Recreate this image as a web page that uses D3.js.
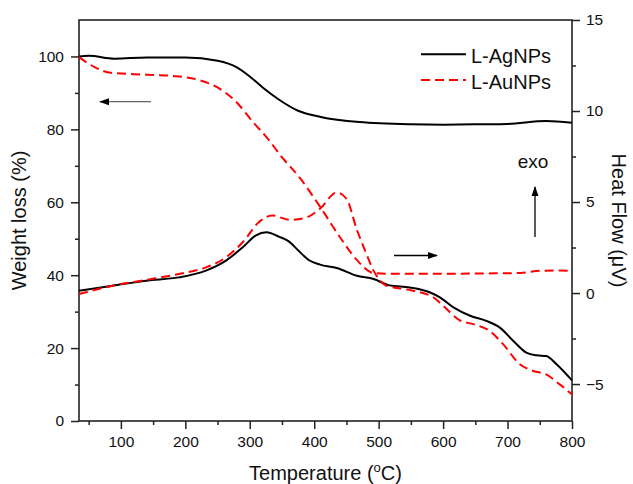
<!DOCTYPE html>
<html>
<head>
<meta charset="utf-8">
<script src="https://cdn.jsdelivr.net/npm/d3@7"></script>
<style>
  body { margin: 0; background: #fff; }
  svg text { font-family: Arial, "Liberation Sans", sans-serif; fill: #111; }
</style>
</head>
<body>
<div id="chart"></div>
<script>
// Temperature axis ticks
var tempTicks = [100, 200, 300, 400, 500, 600, 700, 800];
var weightTicks = [0, 20, 40, 60, 80, 100];
var heatTicks = [-5, 0, 5, 10, 15];
var seriesNames = ['L-AgNPs', 'L-AuNPs'];

// Weight loss (%) - left axis
var agWeightT = [35, 50, 90, 140, 200, 250, 280, 300, 320, 345, 375, 410, 470, 550, 600, 660, 700, 760, 800];
var agWeight  = [100, 100.2, 99.4, 99.7, 99.7, 98.8, 97, 94.5, 91.5, 88.2, 85.1, 83.4, 82.0, 81.4, 81.3, 81.4, 81.5, 82.3, 81.8];
var auWeightT = [35, 60, 85, 140, 190, 220, 250, 278, 305, 330, 347, 378, 409, 440, 466, 492, 520, 600, 680, 720, 750, 780, 800];
var auWeight  = [99.8, 97, 95.5, 95, 94.5, 93.6, 91.5, 87.7, 82, 77, 73, 66.6, 58.8, 50.4, 44.2, 40.6, 40.4, 40.4, 40.5, 40.6, 41.2, 41.3, 41.2];

// Heat flow (uV) - right axis
var agHeatT = [35, 87, 139, 190, 232, 263, 289, 309, 326, 345, 360, 375, 392, 409, 435, 466, 492, 517, 548, 580, 595, 616, 642, 667, 688, 709, 729, 745, 760, 776, 800];
var agHeat  = [0.13, 0.4, 0.68, 0.86, 1.23, 1.78, 2.51, 3.16, 3.34, 3.1, 2.85, 2.35, 1.8, 1.56, 1.38, 0.95, 0.77, 0.42, 0.31, 0.03, -0.24, -0.79, -1.25, -1.53, -1.9, -2.63, -3.27, -3.42, -3.46, -3.91, -4.8];
var auHeatT = [35, 87, 139, 190, 232, 263, 289, 314, 335, 362, 388, 409, 435, 450, 466, 481, 492, 502, 512, 543, 584, 600, 626, 647, 672, 693, 719, 740, 760, 781, 800];
var auHeat  = [-0.06, 0.4, 0.72, 1.05, 1.41, 1.96, 2.79, 3.89, 4.26, 4.02, 4.15, 4.63, 5.52, 5.18, 3.5, 2.15, 1.23, 0.7, 0.4, 0.2, -0.22, -0.7, -1.5, -1.71, -2.08, -2.81, -3.91, -4.28, -4.47, -5.02, -5.57];

var width = 633, height = 484;
var margin = { top: 20, right: 61, bottom: 63, left: 79 };

var svg = d3.select('#chart').append('svg')
    .attr('width', width)
    .attr('height', height);

var x = d3.scaleLinear().domain([35, 800]).range([margin.left, width - margin.right]);
var yW = d3.scaleLinear().domain([0, 110]).range([height - margin.bottom, margin.top]);
var yH = d3.scaleLinear().domain([-7.03, 15]).range([height - margin.bottom, margin.top]);

// arrow head marker
svg.append('defs').append('marker')
    .attr('id', 'head')
    .attr('viewBox', '0 0 10 10')
    .attr('refX', 9).attr('refY', 5)
    .attr('markerWidth', 10).attr('markerHeight', 10)
    .attr('markerUnits', 'userSpaceOnUse')
    .attr('orient', 'auto')
    .append('path')
    .attr('d', 'M0,1.5 L10,5 L0,8.5 Z')
    .attr('fill', '#000');

// frame
svg.append('rect')
    .attr('x', margin.left).attr('y', margin.top)
    .attr('width', width - margin.left - margin.right)
    .attr('height', height - margin.top - margin.bottom)
    .attr('fill', 'none').attr('stroke', '#222').attr('stroke-width', 1.6);

function minorRange(a, b, step) {
    var out = [];
    for (var v = a; v <= b + 1e-9; v += step) out.push(v);
    return out;
}

function styleAxis(g) {
    g.select('.domain').remove();
    g.selectAll('line').attr('stroke', '#222').attr('stroke-width', 1.5);
    g.selectAll('text').attr('font-size', '15.5px').attr('fill', '#111');
}

var bottomY = height - margin.bottom;

// x axis
svg.append('g').attr('transform', 'translate(0,' + bottomY + ')')
    .call(d3.axisBottom(x).tickValues(tempTicks).tickSize(8).tickPadding(7))
    .call(styleAxis);
svg.append('g').attr('transform', 'translate(0,' + bottomY + ')')
    .call(d3.axisBottom(x).tickValues(minorRange(50, 750, 100)).tickSize(4).tickFormat(''))
    .call(styleAxis);

// left axis
svg.append('g').attr('transform', 'translate(' + margin.left + ',0)')
    .call(d3.axisLeft(yW).tickValues(weightTicks).tickSize(8).tickPadding(7))
    .call(styleAxis);
svg.append('g').attr('transform', 'translate(' + margin.left + ',0)')
    .call(d3.axisLeft(yW).tickValues(minorRange(10, 90, 20)).tickSize(4).tickFormat(''))
    .call(styleAxis);

// right axis
var rightX = width - margin.right;
svg.append('g').attr('transform', 'translate(' + rightX + ',0)')
    .call(d3.axisRight(yH).tickValues(heatTicks).tickSize(8).tickPadding(6))
    .call(styleAxis);
svg.append('g').attr('transform', 'translate(' + rightX + ',0)')
    .call(d3.axisRight(yH).tickValues(minorRange(-2.5, 12.5, 5)).tickSize(4).tickFormat(''))
    .call(styleAxis);

// curves
function drawCurve(ts, vs, yScale, color, dash) {
    var pts = ts.map(function(t, i) { return [t, vs[i]]; });
    var line = d3.line()
        .x(function(d) { return x(d[0]); })
        .y(function(d) { return yScale(d[1]); })
        .curve(d3.curveMonotoneX);
    svg.append('path')
        .datum(pts)
        .attr('d', line)
        .attr('fill', 'none')
        .attr('stroke', color)
        .attr('stroke-width', 2)
        .attr('stroke-dasharray', dash ? '9,5' : null);
}

drawCurve(agWeightT, agWeight, yW, '#000', false);
drawCurve(auWeightT, auWeight, yW, '#ff0000', true);
drawCurve(agHeatT, agHeat, yH, '#000', false);
drawCurve(auHeatT, auHeat, yH, '#ff0000', true);

// arrows and annotation
function arrow(x1, y1, x2, y2, color) {
    svg.append('line')
        .attr('x1', x1).attr('y1', y1).attr('x2', x2).attr('y2', y2)
        .attr('stroke', color).attr('stroke-width', 1.3)
        .attr('marker-end', 'url(#head)');
}
arrow(151, 101.7, 100, 101.7, '#666');
arrow(394, 255.5, 437, 255.5, '#000');
arrow(535, 237, 535, 187, '#000');

svg.append('text')
    .attr('x', 533).attr('y', 167.5)
    .attr('text-anchor', 'middle')
    .attr('font-size', '19px')
    .text('exo');

// legend
var legend = svg.append('g');
[['#000', false], ['#ff0000', true]].forEach(function(st, i) {
    var ly = 54.3 + i * 25.7;
    legend.append('line')
        .attr('x1', 421).attr('x2', 466).attr('y1', ly).attr('y2', ly)
        .attr('stroke', st[0]).attr('stroke-width', 2)
        .attr('stroke-dasharray', st[1] ? '9,5' : null);
    legend.append('text')
        .attr('x', 471).attr('y', ly + 8.5)
        .attr('font-size', '20px')
        .text(seriesNames[i]);
});

// axis titles
var xt = svg.append('text')
    .attr('x', (margin.left + rightX) / 2).attr('y', 480)
    .attr('text-anchor', 'middle')
    .attr('font-size', '20px');
xt.append('tspan').text('Temperature (');
xt.append('tspan').attr('font-size', '13px').attr('dy', -8).text('o');
xt.append('tspan').attr('dy', 8).text('C)');

svg.append('text')
    .attr('transform', 'translate(26,' + ((margin.top + bottomY) / 2) + ') rotate(-90)')
    .attr('text-anchor', 'middle')
    .attr('font-size', '20px')
    .text('Weight loss (%)');

svg.append('text')
    .attr('transform', 'translate(612,' + ((margin.top + bottomY) / 2) + ') rotate(90)')
    .attr('text-anchor', 'middle')
    .attr('font-size', '20px')
    .text('Heat Flow (\u03bcV)');
</script>
</body>
</html>
